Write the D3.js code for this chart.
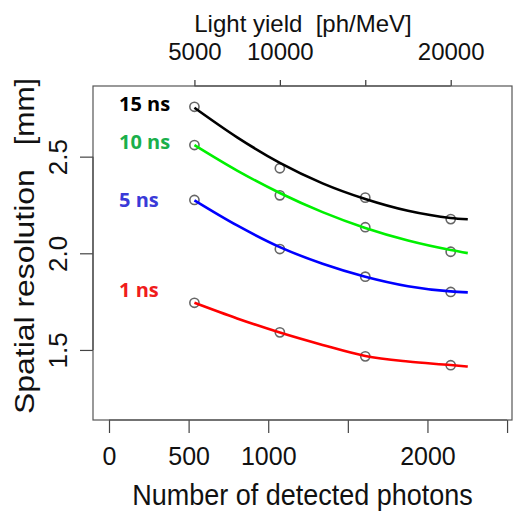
<!DOCTYPE html>
<html>
<head>
<meta charset="utf-8">
<script src="https://cdn.jsdelivr.net/npm/d3@7"></script>
<style>
  html, body { margin: 0; padding: 0; background: #fff; }
  svg { display: block; }
  text { font-family: "Liberation Sans", Arial, Helvetica, sans-serif; }
</style>
</head>
<body>
<svg id="chart" width="517" height="516"></svg>
<script>
// ---- data ----
const lightYield = [5000, 10000, 15000, 20000];           // ph/MeV, measured points
const photonsPerLY = 0.1073;                               // detected photons per (ph/MeV)
const res15ns = [2.758, 2.440, 2.288, 2.177];
const res10ns = [2.560, 2.300, 2.135, 2.008];
const res5ns  = [2.276, 2.022, 1.879, 1.800];
const res1ns  = [1.744, 1.591, 1.467, 1.421];
// fitted curves
const fitLY    = [5000, 7500, 10000, 12500, 15000, 17500, 20000, 21000];
const fit15ns  = [2.753, 2.600, 2.468, 2.362, 2.281, 2.220, 2.183, 2.176];
const fit10ns  = [2.560, 2.428, 2.312, 2.213, 2.131, 2.066, 2.017, 2.001];
const fit5ns   = [2.274, 2.144, 2.032, 1.946, 1.879, 1.830, 1.803, 1.798];
const fit1ns   = [1.744, 1.663, 1.590, 1.526, 1.469, 1.440, 1.422, 1.414];
const seriesNames  = ["15 ns", "10 ns", "5 ns", "1 ns"];
const seriesColors = ["#000000", "#00f000", "#0000ff", "#ff0000"];
const labelColors  = ["#000000", "#1aaf4b", "#3a3ad8", "#f01c1c"];
const labelValues  = [2.736, 2.540, 2.241, 1.772];

const xTicks = [0, 500, 1000, 1500, 2000, 2500];
const xTickLabels = ["0", "500", "1000", "", "2000", ""];
const topTicks = [5000, 10000, 15000, 20000];
const topTickLabels = ["5000", "10000", "", "20000"];
const yTicks = [1.5, 2.0, 2.5];
const yTickLabels = ["1.5", "2.0", "2.5"];

// ---- layout ----
const L = 93, R = 512, T = 86, B = 420;
const svg = d3.select("#chart");

const x = d3.scaleLinear().domain([-100.5, 2531]).range([L, R]);
const xTop = d3.scaleLinear().domain(x.domain().map(d => d / photonsPerLY)).range([L, R]);
const y = d3.scaleLinear().domain([1.1376, 2.8655]).range([B, T]);

// bottom axis
const gx = svg.append("g").attr("transform", `translate(0,${B})`)
  .call(d3.axisBottom(x).tickValues(xTicks).tickSize(13).tickFormat((d, i) => xTickLabels[i]));
gx.select(".domain").attr("d", `M${x(0)},0H${x(2500)}`).attr("stroke", "#444").attr("stroke-width", 1.2);
gx.selectAll(".tick line").attr("stroke", "#444").attr("stroke-width", 1.2);
gx.selectAll(".tick text").attr("y", 45).attr("dy", 0).style("font-size", "25px").style("fill", "#111");

// top axis
const gt = svg.append("g").attr("transform", `translate(0,${T})`)
  .call(d3.axisTop(xTop).tickValues(topTicks).tickSize(6).tickFormat((d, i) => topTickLabels[i]));
gt.select(".domain").attr("d", `M${xTop(5000)},0H${xTop(20000)}`).attr("stroke", "#333").attr("stroke-width", 1.2);
gt.selectAll(".tick line").attr("stroke", "#333").attr("stroke-width", 1.2);
gt.selectAll(".tick text").attr("y", -26).attr("dy", 0).style("font-size", "24px").style("fill", "#111");

// left axis
const gy = svg.append("g").attr("transform", `translate(${L},0)`)
  .call(d3.axisLeft(y).tickValues(yTicks).tickSize(13).tickFormat((d, i) => yTickLabels[i]));
gy.select(".domain").attr("d", `M0,${y(1.5)}V${y(2.5)}`).attr("stroke", "#444").attr("stroke-width", 1.2);
gy.selectAll(".tick line").attr("stroke", "#444").attr("stroke-width", 1.2);
gy.selectAll(".tick text")
  .attr("x", null).attr("dy", 0)
  .attr("text-anchor", "middle")
  .attr("transform", "translate(-26,0) rotate(-90)")
  .style("font-size", "26px").style("fill", "#111");

// box
svg.append("rect").attr("x", L).attr("y", T).attr("width", R - L).attr("height", B - T)
  .attr("fill", "none").attr("stroke", "#555").attr("stroke-width", 1.2);

// titles
svg.append("text").attr("x", 303).attr("y", 32).attr("text-anchor", "middle").attr("xml:space", "preserve")
  .style("font-size", "24px").style("fill", "#111").text("Light yield  [ph/MeV]");
svg.append("text").attr("transform", "translate(302.5,505) scale(1,1.07)").attr("text-anchor", "middle")
  .style("font-size", "27px").style("fill", "#111").text("Number of detected photons");
svg.append("text").attr("transform", "translate(34,414) rotate(-90) scale(1.14,1)").attr("text-anchor", "start")
  .style("font-size", "28px").style("fill", "#111").text("Spatial resolution");
svg.append("text").attr("transform", "translate(34,78) rotate(-90) scale(1.08,1)").attr("text-anchor", "end")
  .style("font-size", "28px").style("fill", "#111").text("[mm]");

// series
const pts = [res15ns, res10ns, res5ns, res1ns];
const fits = [fit15ns, fit10ns, fit5ns, fit1ns];
const line = d3.line().x(d => x(d[0] * photonsPerLY)).y(d => y(d[1])).curve(d3.curveMonotoneX);

pts.forEach((vals, s) => {
  svg.append("g").selectAll("circle").data(vals.map((v, i) => [lightYield[i], v])).join("circle")
    .attr("cx", d => x(d[0] * photonsPerLY)).attr("cy", d => y(d[1])).attr("r", 4.6)
    .attr("fill", "none").attr("stroke", "#666").attr("stroke-width", 1.6);
});
fits.forEach((vals, s) => {
  svg.append("path").datum(vals.map((v, i) => [fitLY[i], v]))
    .attr("d", line).attr("fill", "none").attr("stroke", seriesColors[s]).attr("stroke-width", 2.6);
});

// series labels
seriesNames.forEach((n, s) => {
  svg.append("text").attr("x", 119).attr("y", y(labelValues[s]))
    .style("font-family", "'Open Sans', sans-serif").style("font-weight", "700").style("font-size", "20px")
    .style("fill", labelColors[s]).text(n);
});
</script>
</body>
</html>
